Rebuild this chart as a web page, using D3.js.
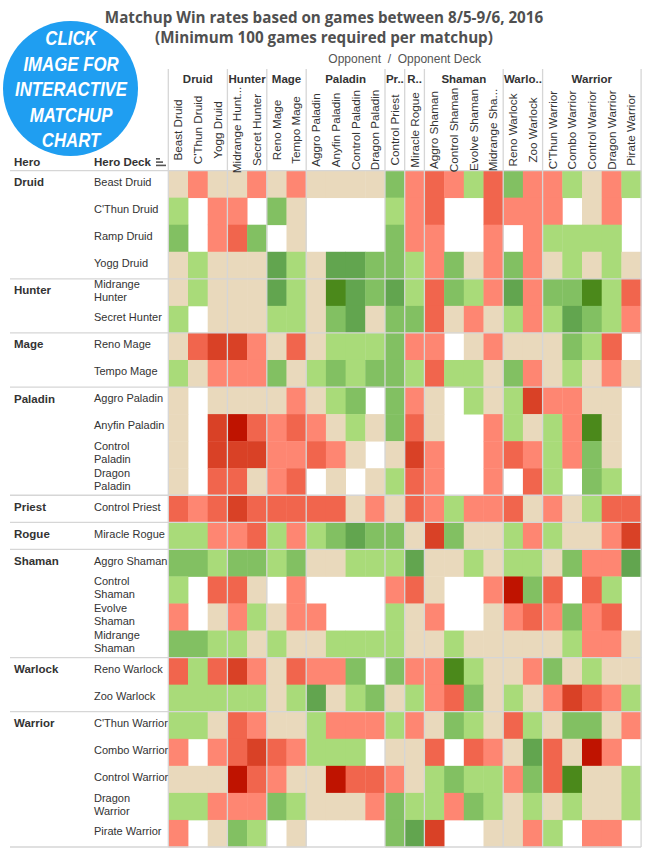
<!DOCTYPE html>
<html>
<head>
<meta charset="utf-8">
<script src="https://cdn.jsdelivr.net/npm/d3@7"></script>
<style>
  body { margin: 0; background: #fff; }
  svg text { font-family: "Liberation Sans", Arial, sans-serif; }
</style>
</head>
<body>
<div class="chart"></div>
<script>
// 상대 영웅 / 덱 (열)
const opponentHero = ['Druid','Druid','Druid','Hunter','Hunter','Mage','Mage',
  'Paladin','Paladin','Paladin','Paladin','Priest','Rogue',
  'Shaman','Shaman','Shaman','Shaman','Warlock','Warlock',
  'Warrior','Warrior','Warrior','Warrior','Warrior'];
const opponentHeroLabel = {Druid:'Druid', Hunter:'Hunter', Mage:'Mage', Paladin:'Paladin', Priest:'Pr..',
  Rogue:'R..', Shaman:'Shaman', Warlock:'Warlo..', Warrior:'Warrior'};
const opponentDeck = ['Beast Druid',"C'Thun Druid",'Yogg Druid','Midrange Hunt...','Secret Hunter',
  'Reno Mage','Tempo Mage','Aggro Paladin','Anyfin Paladin','Control Paladin','Dragon Paladin',
  'Control Priest','Miracle Rogue','Aggro Shaman','Control Shaman','Evolve Shaman','Midrange Sha...',
  'Reno Warlock','Zoo Warlock',"C'Thun Warrior",'Combo Warrior','Control Warrior','Dragon Warrior','Pirate Warrior'];

// 내 영웅 / 덱 (행)
const heroOfDeck = ['Druid','Druid','Druid','Druid','Hunter','Hunter','Mage','Mage',
  'Paladin','Paladin','Paladin','Paladin','Priest','Rogue','Shaman','Shaman','Shaman','Shaman',
  'Warlock','Warlock','Warrior','Warrior','Warrior','Warrior','Warrior'];
const heroDeck = ['Beast Druid',"C'Thun Druid",'Ramp Druid','Yogg Druid','Midrange\nHunter','Secret Hunter',
  'Reno Mage','Tempo Mage','Aggro Paladin','Anyfin Paladin','Control\nPaladin','Dragon\nPaladin',
  'Control Priest','Miracle Rogue','Aggro Shaman','Control\nShaman','Evolve\nShaman','Midrange\nShaman',
  'Reno Warlock','Zoo Warlock',"C'Thun Warrior",'Combo Warrior','Control Warrior','Dragon\nWarrior','Pirate Warrior'];

// 승률(%) - null: 100게임 미만
const _ = null;
const winRates = [
  [50,47,50,50,47,50,47,50,50,50,50,56,47,44,47,53,44,56,47,47,53,50,47,53],
  [53,_,47,47,_,56,50,_,_,_,_,53,47,44,_,_,44,47,47,47,_,50,47,_],
  [56,_,47,44,56,_,50,_,_,_,_,56,47,47,_,_,47,_,47,53,53,53,53,_],
  [50,53,50,50,50,59,53,50,59,59,56,56,53,47,56,50,47,56,47,50,53,50,53,50],
  [50,53,50,50,50,59,53,50,63,59,56,59,53,44,56,53,47,59,47,56,56,63,53,44],
  [53,_,50,50,50,53,53,50,56,59,50,56,56,44,50,47,50,53,47,53,59,56,53,47],
  [50,44,40,40,47,50,44,50,53,53,53,56,47,47,_,50,47,50,50,50,56,53,44,_],
  [53,50,47,47,47,56,50,53,56,53,56,56,53,44,53,53,50,56,47,50,53,50,47,50],
  [50,_,50,50,50,50,47,50,53,56,_,56,47,50,_,53,50,53,40,47,47,50,50,_],
  [50,_,40,35,44,47,44,47,50,53,50,56,44,50,_,_,47,53,50,53,47,63,50,_],
  [50,_,40,40,40,47,47,44,47,50,_,50,40,47,_,_,47,44,47,53,47,56,50,_],
  [50,_,44,44,50,47,44,_,50,_,50,53,44,47,_,_,47,_,44,53,_,56,53,_],
  [44,47,44,40,44,44,44,44,44,50,47,50,44,47,53,47,47,44,50,47,50,53,44,44],
  [53,53,47,47,44,53,47,53,56,59,56,56,50,40,56,50,50,53,47,53,50,50,47,40],
  [56,56,53,56,56,53,56,50,50,53,53,53,59,50,50,53,50,53,53,50,56,47,47,59],
  [53,_,44,44,50,_,47,_,_,_,_,47,44,50,_,_,47,35,56,44,_,44,53,_],
  [47,_,50,47,53,50,47,47,_,_,_,53,50,47,_,_,50,47,44,47,56,47,44,_],
  [56,56,53,53,50,53,50,50,53,53,53,53,50,50,53,50,50,50,50,50,53,47,47,50],
  [44,53,44,40,47,50,44,47,47,56,_,56,47,47,63,53,50,50,47,56,50,53,50,50],
  [53,53,53,53,53,50,53,59,50,53,56,50,53,47,44,56,50,53,50,47,40,44,47,53],
  [53,53,50,44,47,50,50,53,47,47,47,53,47,50,56,53,50,44,53,50,56,56,50,47],
  [47,_,47,44,40,44,47,53,53,53,_,50,50,44,_,44,47,50,59,44,50,35,47,_],
  [50,50,50,35,44,47,50,50,35,44,44,47,50,53,56,53,53,47,56,44,63,50,50,53],
  [53,53,47,47,47,56,53,50,50,50,47,56,53,53,47,56,53,50,53,50,53,50,50,53],
  [47,_,50,56,53,_,50,_,_,_,_,56,59,40,_,_,50,50,47,53,_,47,47,_]
];

const colorBreaks = [37.5, 42, 46, 48.5, 51.5, 54.5, 57.5, 61];
const colorSteps = ['#bf1300','#d94126','#f1654d','#fe8672','#e9d9bc','#a9db79','#82c062','#62a54f','#4b891b'];

/******************** 크기 ********************/
const W = 656, H = 856;
const gridLeft = 168.3, gridRight = 641.1, gridTop = 170.6, gridBottom = 847;
const headerTop = 69;
const lineColor = '#d6d6d6';
const textColor = '#333';

const svg = d3.select('.chart').append('svg')
  .attr('width', W).attr('height', H);

const x = d3.scaleBand(d3.range(opponentDeck.length), [gridLeft, gridRight]);
const y = d3.scaleBand(d3.range(heroDeck.length), [gridTop, gridBottom]);
const color = d3.scaleThreshold(colorBreaks, colorSteps);

// 영웅 그룹 범위 계산
const groups = arr => {
  const out = [];
  arr.forEach((h, i) => {
    if (!out.length || out[out.length - 1].hero !== h) out.push({hero: h, start: i, end: i});
    else out[out.length - 1].end = i;
  });
  return out;
};
const colGroups = groups(opponentHero);
const rowGroups = groups(heroOfDeck);

/******************** 셀 ********************/
const cells = winRates.flatMap((row, r) => row.map((v, c) => ({r, c, v}))).filter(d => d.v !== null);
svg.append('g')
  .selectAll('rect')
  .data(cells)
  .join('rect')
    .attr('x', d => x(d.c))
    .attr('y', d => y(d.r))
    .attr('width', x.bandwidth() + 0.4)
    .attr('height', y.bandwidth() + 0.4)
    .attr('fill', d => color(d.v));

/******************** 구분선 ********************/
const lines = svg.append('g').attr('stroke', lineColor).attr('stroke-width', 1.3);
colGroups.forEach(g => {
  lines.append('line').attr('x1', x(g.start)).attr('x2', x(g.start)).attr('y1', headerTop).attr('y2', gridBottom);
});
lines.append('line').attr('x1', gridRight).attr('x2', gridRight).attr('y1', headerTop).attr('y2', gridBottom);
lines.append('line').attr('x1', 10).attr('x2', gridRight).attr('y1', gridTop).attr('y2', gridTop);
rowGroups.forEach(g => {
  const yy = y(g.end) + y.bandwidth();
  lines.append('line').attr('x1', 10).attr('x2', gridRight).attr('y1', yy).attr('y2', yy);
});

/******************** 열 헤더 ********************/
svg.append('text')
  .attr('x', (gridLeft + gridRight) / 2).attr('y', 59).attr('dy', '0.35em')
  .attr('text-anchor', 'middle').attr('font-size', 12).attr('fill', '#555')
  .attr('xml:space', 'preserve')
  .text('Opponent  /  Opponent Deck');

svg.append('g')
  .selectAll('text')
  .data(colGroups)
  .join('text')
    .attr('x', g => (x(g.start) + x(g.end) + x.bandwidth()) / 2)
    .attr('y', 79).attr('dy', '0.35em')
    .attr('text-anchor', 'middle')
    .attr('font-size', 11.5).attr('font-weight', 'bold').attr('fill', textColor)
    .text(g => opponentHeroLabel[g.hero]);

svg.append('g')
  .selectAll('text')
  .data(opponentDeck)
  .join('text')
    .attr('transform', (d, i) => `translate(${x(i) + x.bandwidth() / 2},130) rotate(-90)`)
    .attr('dy', '0.35em')
    .attr('text-anchor', 'middle')
    .attr('font-size', 11.7).attr('fill', textColor)
    .text(d => d);

/******************** 행 헤더 ********************/
svg.append('text').attr('x', 14).attr('y', 162).attr('dy', '0.35em')
  .attr('font-size', 11.5).attr('font-weight', 'bold').attr('fill', textColor).text('Hero');
svg.append('text').attr('x', 94).attr('y', 162).attr('dy', '0.35em')
  .attr('font-size', 11.5).attr('font-weight', 'bold').attr('fill', textColor).text('Hero Deck');
// 정렬 아이콘
svg.append('g').attr('fill', '#555')
  .selectAll('rect')
  .data([4, 7, 10])
  .join('rect')
    .attr('x', 156).attr('y', (d, i) => 158 + i * 3.3)
    .attr('width', d => d).attr('height', 1.6);

svg.append('g')
  .selectAll('text')
  .data(rowGroups)
  .join('text')
    .attr('x', 14)
    .attr('y', g => y(g.start) + y.bandwidth() / 2 - 2)
    .attr('dy', '0.35em')
    .attr('font-size', 11.5).attr('font-weight', 'bold').attr('fill', textColor)
    .text(g => g.hero);

svg.append('g')
  .selectAll('text')
  .data(heroDeck)
  .join('text')
    .attr('font-size', 11).attr('fill', textColor)
    .each(function(d, i) {
      const parts = d.split('\n');
      const cy = y(i) + y.bandwidth() / 2 - 2;
      d3.select(this).selectAll('tspan')
        .data(parts)
        .join('tspan')
          .attr('x', 94)
          .attr('y', (p, j) => cy + (j - (parts.length - 1) / 2) * 13)
          .attr('dy', '0.35em')
          .text(p => p);
    });

/******************** 제목 ********************/
svg.append('g')
  .attr('font-weight', 'bold').attr('fill', '#505050').attr('text-anchor', 'middle')
  .selectAll('text')
  .data(['Matchup Win rates based on games between 8/5-9/6, 2016', '(Minimum 100 games required per matchup)'])
  .join('text')
    .attr('x', 324).attr('y', (d, i) => 23 + i * 20)
    .attr('font-size', 15.2)
    .style('font-family', '"Open Sans", sans-serif')
    .text(d => d);

/******************** 파란 원 버튼 ********************/
svg.append('circle')
  .attr('cx', 70.5).attr('cy', 88.5).attr('r', 67.5)
  .attr('fill', '#1f9ef1');
svg.append('g')
  .attr('fill', '#fff').attr('text-anchor', 'middle')
  .attr('font-size', 21).attr('font-weight', 'bold').attr('font-style', 'italic')
  .selectAll('text')
  .data(['CLICK', 'IMAGE FOR', 'INTERACTIVE', 'MATCHUP', 'CHART'])
  .join('text')
    .attr('transform', (d, i) => `translate(71,${37.5 + i * 25.5}) scale(0.8,1)`)
    .attr('dy', '0.36em')
    .style('font-family', '"Liberation Sans", Arial, sans-serif')
    .text(d => d);
</script>
</body>
</html>
